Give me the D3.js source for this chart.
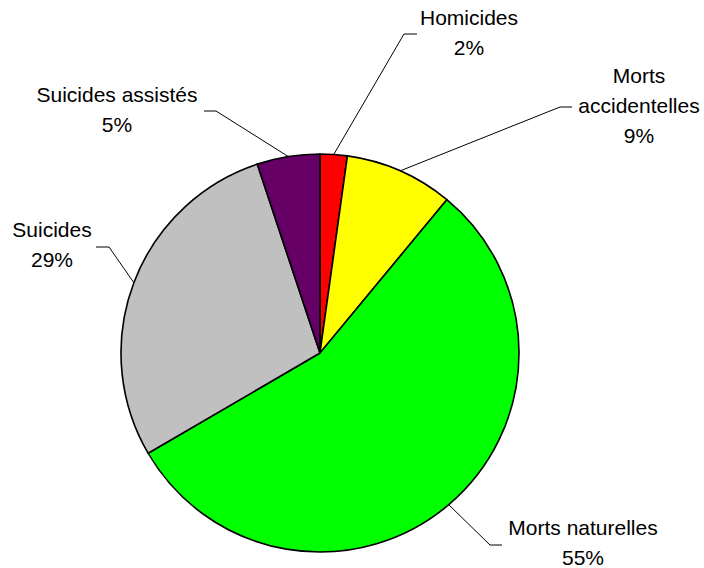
<!DOCTYPE html>
<html><head><meta charset="utf-8">
<script src="https://cdn.jsdelivr.net/npm/d3@7"></script>
<style>body{margin:0;background:#fff}svg{display:block}</style>
</head><body>
<script>
const categories = ["Homicides", "Morts accidentelles", "Morts naturelles", "Suicides", "Suicides assistés"];
const values = [2.2, 8.8, 55.6, 28.3, 5.1];
const percentLabels = ["2%", "9%", "55%", "29%", "5%"];
const nameLines = [["Homicides"], ["Morts", "accidentelles"], ["Morts naturelles"], ["Suicides"], ["Suicides assistés"]];
const colors = ["#FF0000", "#FFFF00", "#00FF00", "#C0C0C0", "#660066"];

// label layout: text center x, first baseline y, elbow point, elbow end
const layout = [
  {tx: 469, ty: 25, ex: 404, ey: 34, hx: 417},
  {tx: 639, ty: 83, ex: 560, ey: 107, hx: 572},
  {tx: 583, ty: 535, ex: 490, ey: 545, hx: 502},
  {tx: 52, ty: 237, ex: 109, ey: 247, hx: 96},
  {tx: 117, ty: 102, ex: 216, ey: 111, hx: 204}
];

const W = 704, H = 568, cx = 320, cy = 353, R = 199;
const svg = d3.select("body").append("svg").attr("width", W).attr("height", H);
const g = svg.append("g").attr("transform", `translate(${cx},${cy})`);

const data = categories.map((c, i) => ({name: c, value: values[i], i}));
const pie = d3.pie().value(d => d.value).sort(null).startAngle(0).endAngle(2 * Math.PI);
const arcs = pie(data);
const arc = d3.arc().innerRadius(0).outerRadius(R);

g.selectAll("path.slice").data(arcs).enter().append("path")
  .attr("class", "slice")
  .attr("d", arc)
  .attr("fill", d => colors[d.data.i])
  .attr("stroke", "#000").attr("stroke-width", 1.6).attr("stroke-linejoin", "round");

// leader lines
arcs.forEach(a => {
  const L = layout[a.data.i];
  const mid = (a.startAngle + a.endAngle) / 2;
  const sx = cx + R * Math.sin(mid), sy = cy - R * Math.cos(mid);
  svg.append("polyline")
    .attr("points", `${sx},${sy} ${L.ex},${L.ey} ${L.hx},${L.ey}`)
    .attr("fill", "none").attr("stroke", "#000").attr("stroke-width", 1);
  const lines = nameLines[a.data.i].concat([percentLabels[a.data.i]]);
  const t = svg.append("text")
    .attr("text-anchor", "middle")
    .attr("font-family", "Arial, 'Liberation Sans', sans-serif")
    .attr("font-size", 21).attr("fill", "#000");
  lines.forEach((s, k) => {
    t.append("tspan").attr("x", L.tx).attr("y", L.ty + k * 30).text(s);
  });
});
</script>
</body></html>
